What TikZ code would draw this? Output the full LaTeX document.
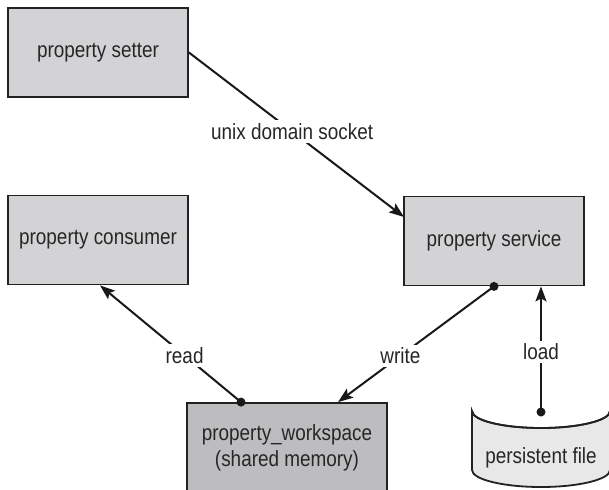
\documentclass[tikz,border=0pt]{standalone}
\usepackage{fontspec}
\setmainfont{Liberation Sans}[FakeStretch=0.86]
\usetikzlibrary{arrows.meta}
\definecolor{boxgray}{HTML}{D3D3D5}
\definecolor{wsgray}{HTML}{BDBDBF}
\definecolor{cylgray}{HTML}{E8E8E9}
\definecolor{edge}{HTML}{222222}
\tikzset{
  procbox/.style={draw=edge, line width=1.8pt, fill=boxgray, minimum width=180pt, minimum height=89pt, inner sep=0pt, font=\fontsize{22}{26}\selectfont, text=black!85, align=center},
  conn/.style={line width=2pt, draw=black!90},
  tip/.style={-{Stealth[length=15pt,width=11pt,inset=3pt]}},
  dotend/.style={fill=black!90},
  lbl/.style={fill=white, inner sep=3pt, font=\fontsize{22}{26}\selectfont, text=black!85}
}
\begin{document}
\begin{tikzpicture}[x=1pt,y=-1pt]
\useasboundingbox (0,0) rectangle (609,489);
\fill[white] (0,0) rectangle (609,489);
\node[procbox] (setter) at (98,52.5) {property setter};
\node[procbox] (consumer) at (98,240) {property consumer};
\node[procbox] (service) at (494,241) {property service};
\node[procbox, fill=wsgray, minimum width=200pt, minimum height=90pt] (ws) at (287,448) {property\_workspace\\(shared memory)};
% cylinder
\draw[draw=edge, line width=1.8pt, fill=cylgray] (472,411) -- (472,470) arc[start angle=180, end angle=360, x radius=69pt, y radius=17pt] -- (610,411) arc[start angle=0, end angle=-180, x radius=69pt, y radius=17pt] -- cycle;
\draw[draw=edge, line width=1.8pt] (472,411) arc[start angle=180, end angle=360, x radius=69pt, y radius=17pt];
\node[font=\fontsize{22}{26}\selectfont, text=black!85] (pf) at (541,458) {persistent file};
\coordinate (pfdot) at (541,412);
\coordinate (svcin) at (404,217);
\coordinate (readstart) at (ws.north -| 241,0);
\coordinate (writestart) at (service.south -| 494,0);
% connectors
\draw[conn, tip] (setter.east) -- node[lbl, pos=0.48] {unix domain socket} (svcin);
\draw[conn, tip] (readstart) -- node[lbl, pos=0.4] {read} (consumer.south -| 100,0);
\draw[conn, tip] (writestart) -- node[lbl, pos=0.6] {write} (ws.north -| 338,0);
\draw[conn, tip] (pfdot) -- node[lbl, pos=0.48] {load} (service.south -| 541,0);
\fill[dotend] (readstart) circle (4.5pt);
\fill[dotend] (writestart) circle (4.5pt);
\fill[dotend] (pfdot) circle (4.5pt);
\end{tikzpicture}
\end{document}
